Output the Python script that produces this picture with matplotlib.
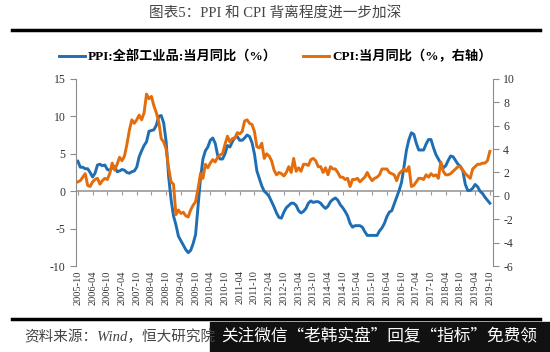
import matplotlib
matplotlib.use('Agg')
import matplotlib.pyplot as plt
from matplotlib.lines import Line2D
from matplotlib.patches import Rectangle
import numpy as np

plt.rcParams['font.family'] = ['Liberation Serif', 'Noto Sans CJK SC', 'DejaVu Sans']
plt.rcParams['axes.unicode_minus'] = False

# ---- data: monthly, 2005-10 .. 2019-10 ----
ppi = [4.0, 3.2, 3.2,
       3.0, 3.0, 2.5, 1.9, 2.4, 3.5, 3.6, 3.4, 3.5, 2.9, 2.8, 3.1,
       3.3, 2.6, 2.7, 2.9, 2.8, 2.5, 2.4, 2.6, 2.7, 3.2, 4.6, 5.4,
       6.1, 6.6, 8.0, 8.1, 8.2, 8.8, 10.0, 10.1, 9.1, 6.6, 2.0, -1.1,
       -3.3, -4.5, -6.0, -6.6, -7.2, -7.8, -8.2, -7.9, -7.0, -5.8, -2.1, 1.7,
       4.3, 5.4, 5.9, 6.8, 7.1, 6.4, 4.8, 4.3, 4.3, 5.0, 6.1, 5.9,
       6.6, 7.2, 7.3, 6.8, 6.8, 7.1, 7.5, 7.3, 6.5, 5.0, 2.7, 1.7,
       0.7, 0.0, -0.3, -0.7, -1.4, -2.1, -2.9, -3.5, -3.6, -2.8, -2.2, -1.9,
       -1.6, -1.6, -1.9, -2.6, -2.9, -2.7, -2.3, -1.6, -1.3, -1.5, -1.4, -1.4,
       -1.6, -2.0, -2.3, -2.0, -1.4, -1.1, -0.9, -1.2, -1.8, -2.2, -2.7, -3.3,
       -4.3, -4.8, -4.6, -4.6, -4.6, -4.8, -5.4, -5.9, -5.9, -5.9, -5.9, -5.9,
       -5.3, -4.9, -4.3, -3.4, -2.8, -2.6, -1.7, -0.8, 0.1, 1.2, 3.3, 5.5,
       6.9, 7.8, 7.6, 6.4, 5.5, 5.5, 5.5, 6.3, 6.9, 6.9, 5.8, 4.9,
       4.3, 3.7, 3.1, 3.4, 4.1, 4.7, 4.6, 4.1, 3.6, 3.3, 2.7, 0.9,
       0.1, 0.1, 0.4, 0.9, 0.6, 0.0, -0.3, -0.8, -1.2, -1.6]

cpi = [1.2, 1.3, 1.6,
       1.9, 0.9, 0.8, 1.2, 1.4, 1.5, 1.0, 1.3, 1.5, 1.4, 1.9, 2.8,
       2.2, 2.7, 3.3, 3.0, 3.4, 4.4, 5.6, 6.5, 6.2, 6.5, 6.9, 6.5,
       7.1, 8.7, 8.3, 8.5, 7.7, 7.1, 6.3, 4.9, 4.6, 4.0, 2.4, 1.2,
       1.0, -1.6, -1.2, -1.5, -1.4, -1.7, -1.8, -1.2, -0.8, -0.5, 0.6, 1.9,
       1.5, 2.7, 2.4, 2.8, 3.1, 2.9, 3.3, 3.5, 3.6, 4.4, 5.1, 4.6,
       4.9, 4.9, 5.4, 5.3, 5.5, 6.4, 6.5, 6.2, 6.1, 5.5, 4.2, 4.1,
       4.5, 3.2, 3.6, 3.4, 3.0, 2.2, 1.8, 2.0, 1.9, 1.7, 2.0, 2.5,
       2.0, 3.2, 2.1, 2.4, 2.1, 2.7, 2.7, 2.6, 3.1, 3.2, 3.0, 2.5,
       2.5, 2.0, 2.4, 1.8, 2.5, 2.3, 2.3, 2.0, 1.6, 1.6, 1.4, 1.5,
       0.8, 1.4, 1.4, 1.5, 1.2, 1.4, 1.6, 2.0, 1.6, 1.3, 1.5, 1.6,
       1.8, 2.3, 2.3, 2.3, 2.0, 1.9, 1.8, 1.3, 1.9, 2.1, 2.3, 2.1,
       2.5, 0.8, 0.9, 1.2, 1.5, 1.5, 1.4, 1.8, 1.6, 1.9, 1.7, 1.8,
       1.5, 2.9, 2.1, 1.8, 1.8, 1.9, 2.1, 2.3, 2.5, 2.5, 2.2, 1.9,
       1.7, 1.5, 2.3, 2.5, 2.7, 2.7, 2.8, 2.8, 3.0, 3.8]

months = []
y, m = 2005, 10
for i in range(len(ppi)):
    months.append('%d-%02d' % (y, m))
    m += 1
    if m > 12:
        m = 1
        y += 1

x = np.arange(len(ppi))
tick_idx = x[::6]
tick_lab = [months[i] for i in tick_idx]

blue = '#1F6EB4'
orange = '#E46C0A'

fig = plt.figure(figsize=(5.5, 3.52), dpi=100)
ax = fig.add_axes([0.138, 0.244, 0.758, 0.532])
ax2 = ax.twinx()

ax.plot(x, ppi, color=blue, lw=2.1, label='PPI:全部工业品:当月同比（%）')
ax2.plot(x, cpi, color=orange, lw=2.1, label='CPI:当月同比（%，右轴）')

ax.set_xlim(-0.8, 169.2)
ax.set_ylim(-10, 15)
ax2.set_ylim(-6, 10)
ax.set_yticks(np.arange(-10, 16, 5))
ax2.set_yticks(np.arange(-6, 11, 2))

ax.axhline(0, color='#9a9a9a', lw=1.2, zorder=0)

for a in (ax, ax2):
    a.spines['top'].set_visible(False)
    a.spines['bottom'].set_visible(False)
    a.spines['left'].set_color('#8c8c8c')
    a.spines['right'].set_color('#8c8c8c')
    a.tick_params(axis='y', colors='#8c8c8c', labelcolor='#333333',
                  labelsize=8.5, length=4, width=0.8)
ax.spines['right'].set_visible(False)
ax2.spines['left'].set_visible(False)

ax.set_xticks(tick_idx)
ax.set_xticklabels(tick_lab, rotation=90, fontsize=7.5, color='#333333')
ax.tick_params(axis='x', length=0, pad=3)

# small tick marks sitting on the zero line
sec = ax.secondary_xaxis(10 / 25)
sec.set_xticks(tick_idx)
sec.set_xticklabels([])
sec.spines['bottom'].set_visible(False)
sec.tick_params(axis='x', direction='out', length=3, color='#9a9a9a', width=0.8)

# legend
h1, l1 = ax.get_legend_handles_labels()
h2, l2 = ax2.get_legend_handles_labels()
fig.legend(h1 + h2, l1 + l2, loc='center', bbox_to_anchor=(0.5, 0.838), ncol=2,
           frameon=False, prop={'size': 9.5, 'weight': 'bold'},
           handlelength=2.0, handletextpad=0.2, columnspacing=2.0)

# title and rules
fig.text(0.5, 0.963, '图表5：PPI 和 CPI 背离程度进一步加深', ha='center', va='center',
         fontsize=10.5, color='#444444')
fig.add_artist(Line2D([0.022, 0.982], [0.916, 0.916], color='black', lw=2.5,
                      transform=fig.transFigure))
fig.add_artist(Line2D([0.022, 0.982], [0.094, 0.094], color='black', lw=2.5,
                      transform=fig.transFigure))
fig.text(0.045, 0.043, '资料来源：Wind，恒大研究院', ha='left', va='center',
         fontsize=10.5, style='italic', color='#444444')

# watermark box
fig.add_artist(Rectangle((0.382, 0.0), 0.618, 0.085, color='#111111',
                         transform=fig.transFigure))
fig.text(0.69, 0.043, '关注微信“老韩实盘”回复“指标”免费领', ha='center', va='center',
         fontsize=12, color='white', family=['Noto Sans CJK SC', 'DejaVu Sans'])

fig.savefig('out.png', dpi=100)
